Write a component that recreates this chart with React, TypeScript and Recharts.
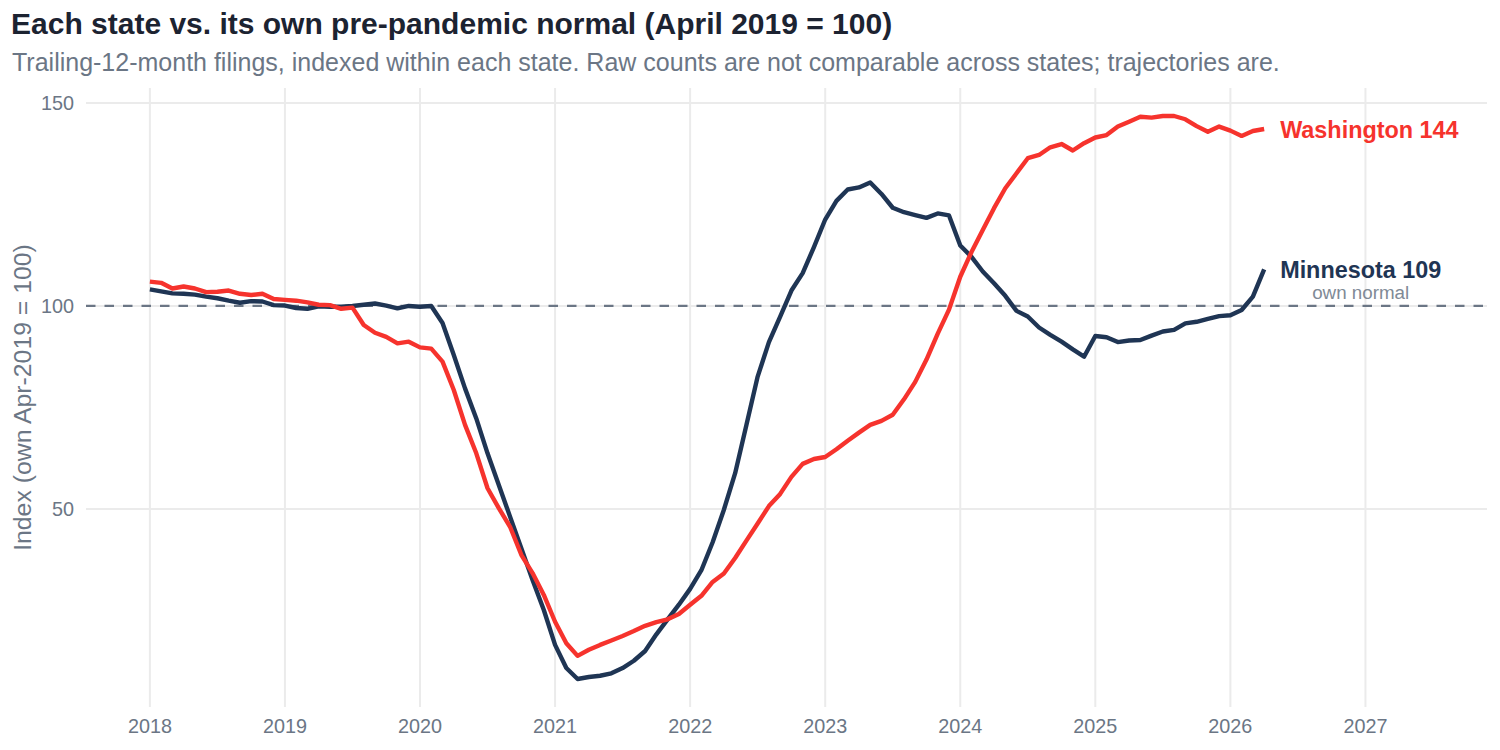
import React from 'react';
import {
  LineChart,
  Line,
  XAxis,
  YAxis,
  ReferenceLine,
  ReferenceDot,
} from 'recharts';

// Monthly trailing-12-month filings index, Jan 2018 through Apr 2026 (Apr 2019 = 100)
const START_YEAR = 2018;

const minnesota = [
  104.1, 103.6, 103.1, 103.0, 102.8, 102.3, 101.9, 101.3, 100.8, 101.2, 101.1, 100.2,
  100.1, 99.5, 99.3, 99.9, 99.8, 99.8, 100.0, 100.3, 100.6, 100.1, 99.4, 100.0,
  99.8, 100.0, 95.8, 87.9, 79.7, 72.3, 63.7, 55.9, 48.1, 40.3, 32.5, 25.1,
  16.5, 10.8, 8.1, 8.6, 8.9, 9.5, 10.8, 12.6, 15.0, 19.1, 22.8, 26.4,
  30.3, 34.9, 41.8, 49.8, 58.8, 70.7, 82.6, 91.1, 97.4, 103.8, 108.1, 114.5,
  121.3, 125.9, 128.7, 129.2, 130.4, 127.6, 124.2, 123.1, 122.4, 121.7, 122.8, 122.3,
  114.9, 112.1, 108.5, 105.6, 102.5, 98.8, 97.4, 94.7, 92.9, 91.2, 89.3, 87.5,
  92.6, 92.3, 91.1, 91.5, 91.6, 92.7, 93.7, 94.1, 95.7, 96.1, 96.8, 97.5,
  97.7, 99.0, 102.3, 109.0,
];

const washington = [
  106.0, 105.7, 104.3, 104.8, 104.3, 103.4, 103.5, 103.8, 103.0, 102.7, 103.0, 101.7,
  101.5, 101.3, 100.9, 100.3, 100.2, 99.3, 99.6, 95.3, 93.4, 92.4, 90.8, 91.2,
  89.8, 89.5, 86.3, 79.3, 70.7, 63.7, 55.1, 50.2, 45.6, 38.7, 34.2, 28.8,
  22.2, 16.9, 13.8, 15.3, 16.5, 17.6, 18.7, 19.9, 21.2, 22.1, 22.8, 24.1,
  26.4, 28.6, 32.0, 34.1, 37.9, 42.2, 46.4, 50.7, 53.7, 57.9, 61.1, 62.3,
  62.8, 64.7, 66.8, 68.8, 70.7, 71.7, 73.2, 77.0, 81.3, 86.8, 93.2, 99.1,
  107.2, 113.3, 118.7, 124.1, 129.0, 132.7, 136.4, 137.2, 139.1, 139.9, 138.3, 140.1,
  141.5, 142.1, 144.2, 145.4, 146.6, 146.4, 146.8, 146.8, 146.0, 144.3, 142.9, 144.2,
  143.2, 141.9, 143.1, 143.6,
];

const yearTicks = [2018, 2019, 2020, 2021, 2022, 2023, 2024, 2025, 2026, 2027];
const indexTicks = [50, 100, 150];
const NORMAL = 100;

const data = minnesota.map((mn, i) => ({
  t: START_YEAR + i / 12,
  mn,
  wa: washington[i],
}));

const last = data[data.length - 1];

const FONT = '"Liberation Sans", Arial, Helvetica, sans-serif';
const NAVY = '#1f3554';
const RED = '#f6332d';
const MUTED = '#6b7685';
const GRID = '#ebebeb';

const endLabel = (text: string, color: string) => (props: any) => {
  const vb = props.viewBox || {};
  return (
    <text
      x={vb.x + 16}
      y={vb.y + 9}
      fill={color}
      fontSize={23.4}
      fontWeight={700}
      fontFamily={FONT}
    >
      {text}
    </text>
  );
};

const normalLabel = (props: any) => {
  const vb = props.viewBox || {};
  return (
    <text
      x={vb.x}
      y={vb.y - 7}
      fill="#808a96"
      fontSize={18.8}
      fontFamily={FONT}
      textAnchor="middle"
    >
      own normal
    </text>
  );
};

export default function App() {
  return (
    <div style={{ position: 'absolute', left: 0, top: 0, width: 1500, height: 750, background: '#fff' }}>
      <LineChart
        width={1500}
        height={750}
        data={data}
        margin={{ top: 88, right: 13, bottom: 13, left: 0 }}
        style={{ fontFamily: FONT }}
      >
        <XAxis
          type="number"
          dataKey="t"
          domain={[2017.527, 2027.9]}
          ticks={yearTicks}
          interval={0}
          allowDataOverflow
          axisLine={false}
          tickLine={false}
          tickMargin={6}
          height={30}
          tick={{ fill: MUTED, fontSize: 19.8, fontFamily: FONT }}
          tickFormatter={(v: number) => String(Math.round(v))}
        />
        <YAxis
          type="number"
          domain={[1.2, 153.7]}
          ticks={indexTicks}
          interval={0}
          allowDataOverflow
          axisLine={false}
          tickLine={false}
          tickMargin={6}
          width={86}
          tick={{ fill: MUTED, fontSize: 19.8, fontFamily: FONT }}
        />
        {yearTicks.map((yr) => (
          <ReferenceLine key={`gx${yr}`} x={yr} stroke={GRID} strokeWidth={2} />
        ))}
        {indexTicks.map((v) => (
          <ReferenceLine key={`gy${v}`} y={v} stroke={GRID} strokeWidth={2} />
        ))}
        <ReferenceLine y={NORMAL} stroke={MUTED} strokeWidth={2.2} strokeDasharray="9.5 9" />
        <Line
          type="linear"
          dataKey="mn"
          stroke={NAVY}
          strokeWidth={4.4}
          dot={false}
          activeDot={false}
          strokeLinejoin="round"
          isAnimationActive={false}
        />
        <Line
          type="linear"
          dataKey="wa"
          stroke={RED}
          strokeWidth={4.4}
          dot={false}
          activeDot={false}
          strokeLinejoin="round"
          isAnimationActive={false}
        />
        <ReferenceDot
          x={last.t}
          y={last.wa}
          r={0}
          fill="none"
          stroke="none"
          label={endLabel(`Washington ${Math.round(last.wa)}`, RED)}
        />
        <ReferenceDot
          x={last.t}
          y={last.mn}
          r={0}
          fill="none"
          stroke="none"
          label={endLabel(`Minnesota ${Math.round(last.mn)}`, NAVY)}
        />
        <ReferenceDot x={2026.965} y={NORMAL} r={0} fill="none" stroke="none" label={normalLabel} />
      </LineChart>
      <svg
        width={1500}
        height={750}
        style={{ position: 'absolute', left: 0, top: 0, pointerEvents: 'none' }}
      >
        <text x={11} y={33.5} fill="#1c2331" fontSize={30} fontWeight={700} fontFamily={FONT}>
          Each state vs. its own pre-pandemic normal (April 2019 = 100)
        </text>
        <text x={12} y={70.7} fill={MUTED} fontSize={25} fontFamily={FONT}>
          Trailing-12-month filings, indexed within each state. Raw counts are not comparable across states; trajectories are.
        </text>
        <text
          x={30.5}
          y={397.5}
          fill={MUTED}
          fontSize={24.8}
          fontFamily={FONT}
          textAnchor="middle"
          transform="rotate(-90 30.5 397.5)"
        >
          Index (own Apr-2019 = 100)
        </text>
      </svg>
    </div>
  );
}
